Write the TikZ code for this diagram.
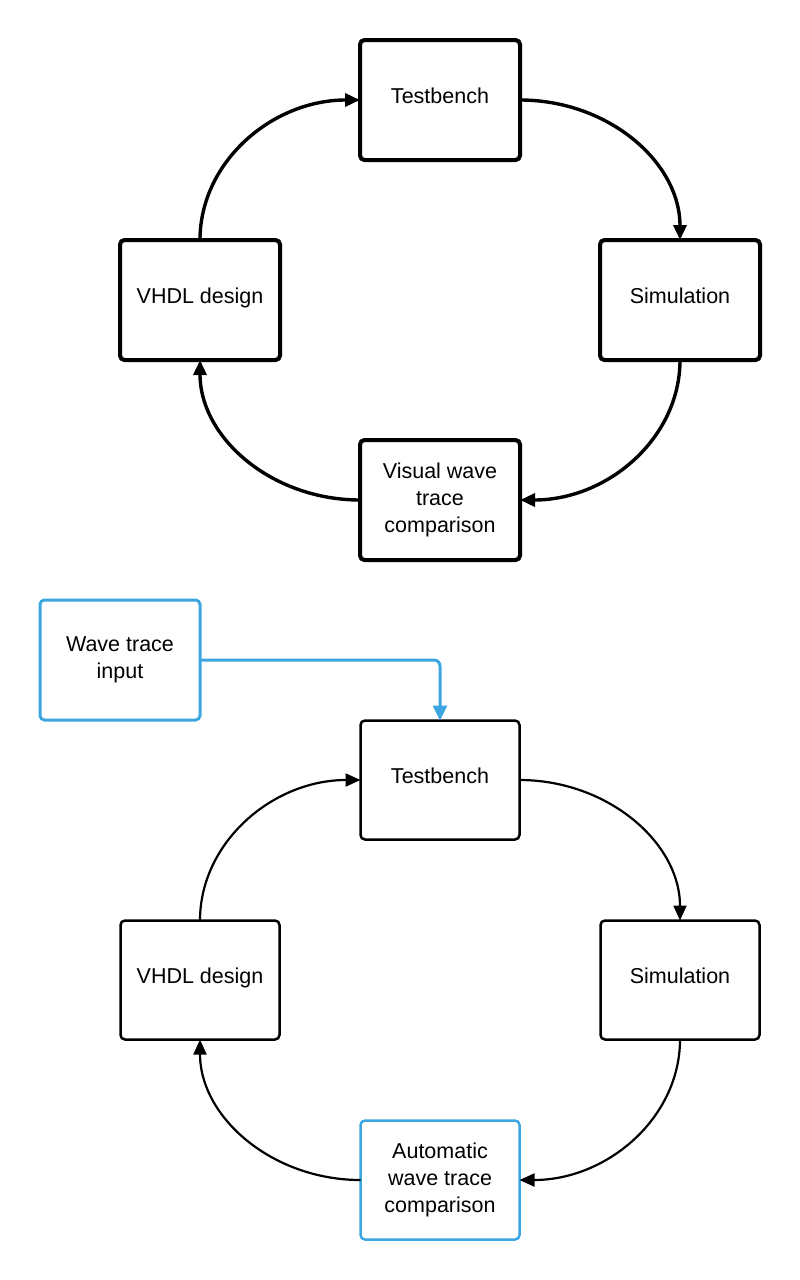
\documentclass[tikz,border=0pt]{standalone}
\usepackage{fontspec}
\setmainfont{Liberation Sans}
\usetikzlibrary{arrows.meta}
\definecolor{cblue}{RGB}{61,166,224}
\newcommand\lblfont{\fontsize{21.5pt}{26.7pt}\selectfont}
\begin{document}
\begin{tikzpicture}[x=1pt,y=-1pt,
  box/.style={draw, rounded corners=4.5pt, minimum width=160pt, minimum height=120pt,
    font=\lblfont, align=center, inner sep=2pt, outer sep=0pt},
  oneline/.style={text height=16pt, text depth=10pt},
  topbox/.style={box, line width=4pt},
  botbox/.style={box, line width=2.5pt, minimum width=159pt, minimum height=119pt},
  bluebox/.style={box, draw=cblue, line width=3pt},
  toparr/.style={line width=3.4pt, -{Triangle[length=15pt,width=13pt]}},
  botarr/.style={line width=2.2pt, -{Triangle[length=15pt,width=13pt]}},
  bluearr/.style={draw=cblue, line width=3pt, rounded corners=6pt, -{Triangle[length=15pt,width=14pt]}}
]
\path[use as bounding box] (0,0) rectangle (800,1280);

% top cycle
\node[topbox, oneline] (tb1) at (440,100) {Testbench};
\node[topbox, oneline] (vd1) at (200,300) {VHDL design};
\node[topbox, oneline] (sim1) at (680,300) {Simulation};
\node[topbox] (vis1) at (440,500) {Visual wave\\trace\\comparison};

\draw[toparr] (vd1.north) .. controls +(0,-78) and +(-88,0) .. (tb1.west);
\draw[toparr] (tb1.east) .. controls +(88,0) and +(0,-78) .. (sim1.north);
\draw[toparr] (sim1.south) .. controls +(0,78) and +(88,0) .. (vis1.east);
\draw[toparr] (vis1.west) .. controls +(-88,0) and +(0,78) .. (vd1.south);

% bottom cycle
\node[bluebox] (wti) at (120,660) {Wave trace\\input};
\node[botbox, oneline] (tb2) at (440,780) {Testbench};
\node[botbox, oneline] (vd2) at (200,980) {VHDL design};
\node[botbox, oneline] (sim2) at (680,980) {Simulation};
\node[bluebox, line width=2.5pt, minimum width=159pt, minimum height=119pt] (auto2) at (440,1180) {Automatic\\wave trace\\comparison};

\draw[bluearr] (wti.east) -| (tb2.north);
\draw[botarr] (vd2.north) .. controls +(0,-78) and +(-88,0) .. (tb2.west);
\draw[botarr] (tb2.east) .. controls +(88,0) and +(0,-78) .. (sim2.north);
\draw[botarr] (sim2.south) .. controls +(0,78) and +(88,0) .. (auto2.east);
\draw[botarr] (auto2.west) .. controls +(-88,0) and +(0,78) .. (vd2.south);
\end{tikzpicture}
\end{document}
